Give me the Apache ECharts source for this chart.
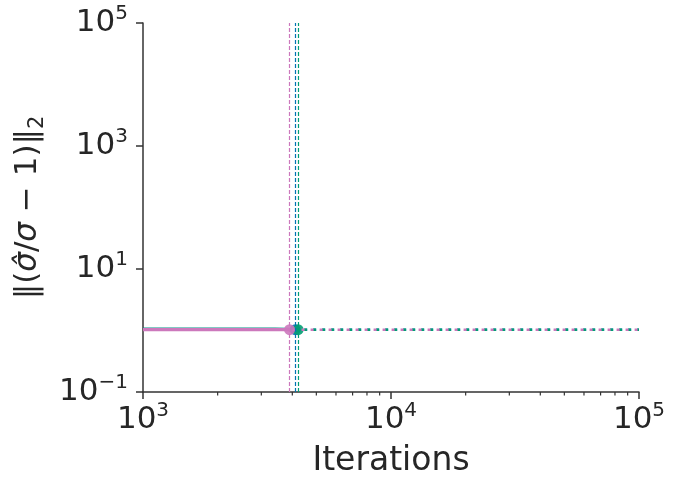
<!DOCTYPE html>
<html>
<head>
<meta charset="utf-8">
<script src="https://cdn.jsdelivr.net/npm/echarts@6/dist/echarts.min.js"></script>
<style>
html,body{margin:0;padding:0;background:#fff;}
#chart{width:674px;height:487px;}
</style>
</head>
<body>
<div id="chart"></div>
<script>
// ---- data ----
const pinkX = [1000, 1300, 1700, 2200, 2800, 3400, 3900];
const pinkY = [1.03, 1.03, 1.035, 1.03, 1.03, 1.03, 1.03];
const blueX = [1000, 1300, 1700, 2200, 2800, 3400, 4110];
const blueY = [1.06, 1.06, 1.065, 1.06, 1.06, 1.06, 1.03];
const greenX = [1000, 1300, 1700, 2200, 2800, 3400, 4220];
const greenY = [1.07, 1.07, 1.075, 1.07, 1.07, 1.07, 1.03];
const endIter = 100000;
const yTicks = [0.1, 10, 1000, 100000];
const xTicks = [1000, 10000, 100000];
const minorXTicks = [2000, 3000, 4000, 5000, 6000, 7000, 8000, 9000,
                     20000, 30000, 40000, 50000, 60000, 70000, 80000, 90000];
const xName = 'Iterations';
const yNameRich = '{n|\u2016(}{i|\u03c3\u0302}{n|/}{i|\u03c3}{n| \u2212 1)\u2016}{sub|2}';

const PINK = '#cc78bc', BLUE = '#0173b2', GREEN = '#029e73';
const TXT = '#262626', AX = '#333333';
const FONT = 'DejaVu Sans';

function pow10Label(v) {
  const e = Math.round(Math.log10(v));
  return '{b|10}{s|' + (e < 0 ? '\u2212' + (-e) : e) + '}';
}
const rich = {
  b: {fontSize: 31, fontFamily: FONT, color: TXT, lineHeight: 38},
  s: {fontSize: 20, fontFamily: FONT, color: TXT, lineHeight: 22, verticalAlign: 'top'}
};

function zip(xs, ys) { return xs.map((x, i) => [x, ys[i]]); }

function mkSeries(name, xs, ys, color, solidOpacity, dashOffset, z) {
  const n = xs.length - 1;
  return [
    {
      name: name, type: 'line', data: zip(xs, ys), showSymbol: false, z: z,
      lineStyle: {color: color, width: 3.2, opacity: solidOpacity},
      itemStyle: {color: color}, silent: true, animation: false,
      markLine: {
        symbol: 'none', silent: true, animation: false,
        label: {show: false},
        lineStyle: {color: color, width: 1.2, type: [4, 2]},
        data: [{xAxis: xs[n]}]
      }
    },
    {
      type: 'line', data: [[xs[n], ys[n]], [endIter, ys[n]]], z: z,
      symbol: 'circle', symbolSize: (v, p) => p.dataIndex === 0 ? 11 : 0,
      itemStyle: {color: color, opacity: 0.9}, animation: false, silent: true,
      lineStyle: {color: color, width: 2.5, type: [3, 6], dashOffset: dashOffset}
    }
  ];
}

const chart = echarts.init(document.getElementById('chart'), null, {renderer: 'canvas'});
const option = {
  backgroundColor: '#ffffff',
  animation: false,
  grid: {left: 143, right: 35, top: 23, bottom: 95, containLabel: false},
  xAxis: {
    type: 'log', logBase: 10, min: xTicks[0], max: xTicks[xTicks.length - 1],
    name: xName, nameLocation: 'middle', nameGap: 53,
    nameTextStyle: {fontSize: 33, fontFamily: FONT, color: TXT},
    axisLine: {lineStyle: {color: AX, width: 1.5}},
    axisTick: {show: true, length: 7, lineStyle: {color: AX, width: 1.5}},
    axisLabel: {formatter: pow10Label, rich: rich, margin: 9},
    splitLine: {show: false}
  },
  yAxis: {
    type: 'log', logBase: 10, min: yTicks[0], max: yTicks[yTicks.length - 1], interval: 2,
    name: yNameRich, nameLocation: 'middle', nameGap: 94, nameRotate: 90,
    nameTextStyle: {
      fontSize: 31, fontFamily: FONT, color: TXT,
      rich: {
        n: {fontSize: 31, fontFamily: FONT, color: TXT, lineHeight: 40},
        i: {fontSize: 31, fontFamily: FONT, fontStyle: 'italic', color: TXT, lineHeight: 40},
        sub: {fontSize: 21, fontFamily: FONT, color: TXT, lineHeight: 26, verticalAlign: 'bottom'}
      }
    },
    axisLine: {show: true, lineStyle: {color: AX, width: 1.5}},
    axisTick: {show: true, length: 7, lineStyle: {color: AX, width: 1.5}},
    axisLabel: {formatter: pow10Label, rich: rich, margin: 15},
    splitLine: {show: false}
  },
  series: [].concat(
    mkSeries('blue', blueX, blueY, BLUE, 0.3, 0, 2),
    mkSeries('green', greenX, greenY, GREEN, 0.35, 3, 3),
    mkSeries('pink', pinkX, pinkY, PINK, 1, 6, 4),
    [{
      type: 'custom', coordinateSystem: 'cartesian2d', silent: true, clip: false, z: 10,
      data: minorXTicks.map(v => [v, yTicks[0]]),
      renderItem: function (params, api) {
        const p = api.coord([api.value(0), api.value(1)]);
        return {type: 'line', shape: {x1: p[0], y1: p[1], x2: p[0], y2: p[1] + 3.5},
                style: {stroke: AX, lineWidth: 1.2}};
      }
    }]
  )
};
chart.setOption(option);
</script>
</body>
</html>
